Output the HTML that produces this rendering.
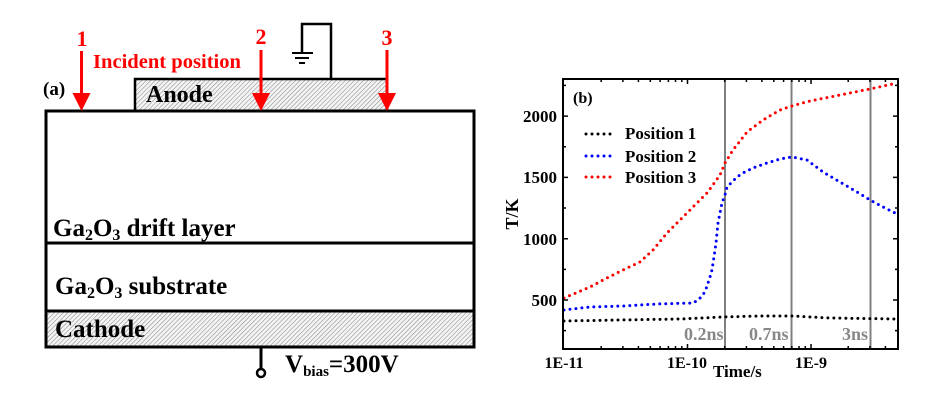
<!DOCTYPE html>
<html><head><meta charset="utf-8"><style>
html,body{margin:0;padding:0;background:#fff;}
svg{display:block;}
text{font-family:"Liberation Serif",serif;font-weight:bold;}
</style></head><body>
<svg width="948" height="404" viewBox="0 0 948 404" xmlns="http://www.w3.org/2000/svg">
<defs>
<pattern id="h" width="3.2" height="3.2" patternUnits="userSpaceOnUse" patternTransform="rotate(45)">
<rect width="3.2" height="3.2" fill="#f4f4f4"/>
<line x1="0" y1="0" x2="0" y2="3.2" stroke="#8a8a8a" stroke-width="1.1"/>
</pattern>
</defs>
<!-- Left diagram -->
<rect x="135" y="79" width="252" height="32" fill="url(#h)" stroke="#000" stroke-width="2.5"/>
<rect x="46" y="311" width="428" height="36" fill="url(#h)"/>
<rect x="46" y="111" width="428" height="236" fill="none" stroke="#000" stroke-width="3"/>
<line x1="46" y1="243" x2="474" y2="243" stroke="#000" stroke-width="3"/>
<line x1="46" y1="311" x2="474" y2="311" stroke="#000" stroke-width="3"/>
<!-- ground -->
<path d="M331 79 V24 H302 V53" fill="none" stroke="#000" stroke-width="2.5"/>
<path d="M292 53 H313 M295 58 H309 M299 63 H305" stroke="#000" stroke-width="2"/>
<!-- bias terminal -->
<line x1="261" y1="347" x2="261" y2="369" stroke="#000" stroke-width="3"/>
<circle cx="261" cy="373" r="4" fill="#fff" stroke="#000" stroke-width="2.5"/>
<!-- arrows -->
<g fill="#ff0000" stroke="none">
<rect x="80" y="51" width="3" height="43"/>
<polygon points="72.5,93 90.5,93 81.5,111"/>
<rect x="259.5" y="50" width="3" height="44"/>
<polygon points="252,93 270,93 261,111"/>
<rect x="385.5" y="50" width="3" height="44"/>
<polygon points="378,93 396,93 387,111"/>
</g>
<g fill="#ff0000" font-size="22">
<text x="82" y="46" text-anchor="middle">1</text>
<text x="261" y="44" text-anchor="middle">2</text>
<text x="387" y="45" text-anchor="middle">3</text>
</g>
<text x="93" y="68" fill="#ff0000" font-size="20" textLength="148" lengthAdjust="spacingAndGlyphs">Incident position</text>
<text x="43" y="95" font-size="19">(a)</text>
<text x="146" y="102" font-size="24">Anode</text>
<text x="53" y="236" font-size="25">Ga<tspan font-size="16" dy="4">2</tspan><tspan dy="-4">O</tspan><tspan font-size="16" dy="4">3</tspan><tspan dy="-4"> drift layer</tspan></text>
<text x="55" y="294" font-size="25">Ga<tspan font-size="16" dy="4">2</tspan><tspan dy="-4">O</tspan><tspan font-size="16" dy="4">3</tspan><tspan dy="-4"> substrate</tspan></text>
<text x="55" y="337" font-size="25">Cathode</text>
<text x="285" y="372" font-size="25">V<tspan font-size="15" dy="4">bias</tspan><tspan dy="-4">=300V</tspan></text>

<!-- Chart -->
<g stroke="#808080" stroke-width="2">
<line x1="725" y1="79" x2="725" y2="349"/>
<line x1="791.5" y1="79" x2="791.5" y2="349"/>
<line x1="870.5" y1="79" x2="870.5" y2="349"/>
</g>
<g fill="#888" font-size="18">
<text x="684" y="340" font-weight="normal">0.2ns</text>
<text x="749" y="340" font-weight="normal">0.7ns</text>
<text x="842" y="340" font-weight="normal">3ns</text>
</g>
<g fill="none" stroke-width="3" stroke-linecap="round" stroke-dasharray="0 6">
<polyline stroke="#000" points="564,321 620,320 680,319 723,317 760,316 792,316 830,318 897,319"/>
<polyline stroke="#0000ff" points="564,310 590,307 623,306 657,304 693,303 698,300 703,295 706,289 708,283 710,277 712,270 713,263 714,257 715,250 716,243 717,233 718,223 720,213 722,203 725,195 727,187 732,182 737,177 743,173 753,168 767,163 780,159 792,157 807,160 823,172 840,182 857,192 870,200 883,207 897,214"/>
<polyline stroke="#ff0000" points="564,298 590,287 607,278 623,270 640,262 653,250 667,233 680,220 693,207 707,193 720,175 725,163 733,150 747,132 763,120 780,110 792,106 810,101 830,97 850,93 870,89 897,83"/>
<line stroke="#000" x1="586" y1="134" x2="616" y2="134"/>
<line stroke="#0000ff" x1="586" y1="156" x2="616" y2="156"/>
<line stroke="#ff0000" x1="586" y1="177" x2="616" y2="177"/>
</g>
<g font-size="17">
<text x="625" y="139">Position 1</text>
<text x="625" y="162">Position 2</text>
<text x="625" y="183">Position 3</text>
</g>
<text x="573" y="103" font-size="16">(b)</text>
<rect x="563" y="79" width="335" height="270" fill="none" stroke="#000" stroke-width="2"/>
<!-- ticks -->
<path stroke="#000" stroke-width="1.5" fill="none" d="
M601.2 349v-3 M622.9 349v-3 M638.4 349v-3 M650.3 349v-3 M660.1 349v-3 M668.4 349v-3 M675.5 349v-3 M681.8 349v-3
M687.5 349v-5
M724.7 349v-3 M746.4 349v-3 M761.9 349v-3 M773.8 349v-3 M783.6 349v-3 M791.9 349v-3 M799 349v-3 M805.3 349v-3
M811 349v-5
M848.2 349v-3 M869.9 349v-3 M885.4 349v-3
M601.2 79v3 M622.9 79v3 M638.4 79v3 M650.3 79v3 M660.1 79v3 M668.4 79v3 M675.5 79v3 M681.8 79v3
M687.5 79v5
M724.7 79v3 M746.4 79v3 M761.9 79v3 M773.8 79v3 M783.6 79v3 M791.9 79v3 M799 79v3 M805.3 79v3
M811 79v5
M848.2 79v3 M869.9 79v3 M885.4 79v3
M563 300h5 M563 238.7h5 M563 177.4h5 M563 116.1h5
M563 330.6h3 M563 269.4h3 M563 208h3 M563 146.8h3 M563 85.4h3
M898 300h-5 M898 238.7h-5 M898 177.4h-5 M898 116.1h-5
M898 330.6h-3 M898 269.4h-3 M898 208h-3 M898 146.8h-3 M898 85.4h-3
"/>
<g font-size="17" text-anchor="end">
<text x="557" y="306">500</text>
<text x="557" y="245">1000</text>
<text x="557" y="183">1500</text>
<text x="557" y="122">2000</text>
</g>
<g font-size="16" text-anchor="middle">
<text x="564" y="368">1E-11</text>
<text x="687" y="368">1E-10</text>
<text x="811" y="368">1E-9</text>
</g>
<text x="713" y="377" font-size="17">Time/s</text>
<text x="0" y="0" font-size="18" text-anchor="middle" transform="translate(518,214) rotate(-90)">T/K</text>
</svg>
</body></html>
